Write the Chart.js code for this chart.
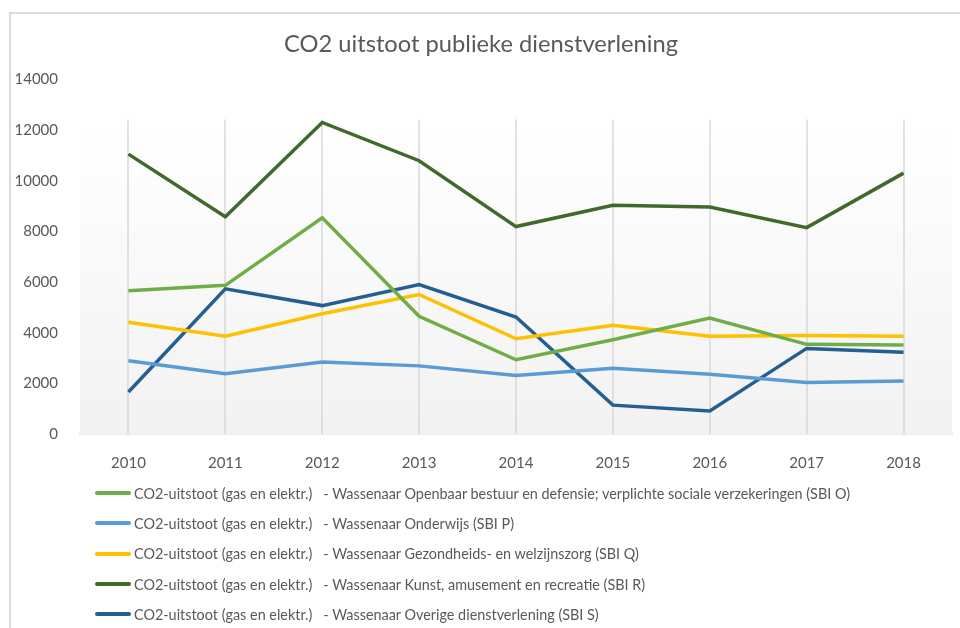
<!DOCTYPE html>
<html>
<head>
<meta charset="utf-8">
<script src="https://cdn.jsdelivr.net/npm/chart.js@4.4.0/dist/chart.umd.min.js"></script>
<style>
  html,body{margin:0;padding:0;background:#fff;overflow:hidden;}
  #wrap{position:relative;width:960px;height:628px;}
  #frame{position:absolute;left:9px;top:12px;width:2000px;height:2000px;border:2px solid #d9d9d9;pointer-events:none;}
  #legend{position:absolute;left:95px;top:478px;font-family:Lato,'Open Sans',sans-serif;font-size:14.4px;color:#595959;}
  #legend .row{height:30.3px;display:flex;align-items:center;white-space:pre;}
  #legend .sw{width:36px;height:4px;margin-right:3px;border-radius:2px;}
</style>
</head>
<body>
<div id="wrap">
  <canvas id="co2Chart" width="960" height="628"></canvas>
  <div id="frame"></div>
  <div id="legend"></div>
</div>
<script>
// ── DATA ─────────────────────────────────────────────────────────────────────
const YEARS = ['2010','2011','2012','2013','2014','2015','2016','2017','2018'];
const Y_TICKS = [0,2000,4000,6000,8000,10000,12000,14000];

const openbaar   = [5660, 5870, 8540, 4650, 2930, 3720, 4580, 3540, 3510];
const onderwijs  = [2890, 2380, 2840, 2690, 2310, 2600, 2360, 2030, 2090];
const gezondheid = [4410, 3860, 4750, 5510, 3760, 4290, 3860, 3890, 3860];
const kunst      = [11050, 8580, 12300, 10790, 8190, 9030, 8960, 8150, 10300];
const overige    = [1660, 5730, 5070, 5900, 4620, 1140, 910, 3380, 3230];

const PREFIX = 'CO2-uitstoot (gas en elektr.)   - Wassenaar ';
const SERIES = [
  {label:PREFIX+'Openbaar bestuur en defensie; verplichte sociale verzekeringen (SBI O)', data:openbaar,   color:'#70AD47'},
  {label:PREFIX+'Onderwijs (SBI P)',                                                   data:onderwijs,  color:'#5B9BD5'},
  {label:PREFIX+'Gezondheids- en welzijnszorg (SBI Q)',                                data:gezondheid, color:'#FFC000'},
  {label:PREFIX+'Kunst, amusement en recreatie (SBI R)',                               data:kunst,      color:'#43682B'},
  {label:PREFIX+'Overige dienstverlening (SBI S)',                                     data:overige,    color:'#255E91'},
];

const MUTED = '#595959';
const GRID  = '#d9d9d9';
const FONT  = "Lato, 'Open Sans', sans-serif";

// ── plot-area fill + vertical gridlines (Excel style) ────────────────────────
const plotBg = {
  id:'plotBg',
  beforeDatasetsDraw(chart){
    const {ctx, chartArea:a, scales:{x}} = chart;
    const top = a.top + 40;
    const g = ctx.createLinearGradient(0, top, 0, a.bottom);
    g.addColorStop(0, '#ffffff');
    g.addColorStop(1, '#f2f2f2');
    ctx.save();
    ctx.fillStyle = g;
    ctx.fillRect(a.left, top, a.right - a.left, a.bottom - top);
    ctx.strokeStyle = GRID;
    ctx.lineWidth = 1.5;
    YEARS.forEach((_,i)=>{
      const px = Math.round(x.getPixelForValue(i));
      ctx.beginPath();
      ctx.moveTo(px, top);
      ctx.lineTo(px, a.bottom);
      ctx.stroke();
    });
    ctx.restore();
  }
};

const chart = new Chart(document.getElementById('co2Chart'),{
  type:'line',
  data:{
    labels:YEARS,
    datasets:SERIES.map(s=>({
      label:s.label, data:s.data, borderColor:s.color, backgroundColor:s.color,
      borderWidth:3.5, tension:0, pointRadius:0, fill:false
    }))
  },
  options:{
    responsive:false, animation:false,
    layout:{padding:{left:10,right:8,top:0,bottom:154}},
    plugins:{
      legend:{display:false},
      tooltip:{enabled:false},
      title:{display:true,text:'CO2 uitstoot publieke dienstverlening',color:MUTED,
        font:{family:FONT,size:23.7,weight:'normal'},padding:{top:30,bottom:21}}
    },
    scales:{
      x:{
        offset:true,
        grid:{display:false},
        border:{display:true,color:GRID,width:1.5},
        ticks:{color:MUTED,font:{family:FONT,size:15},padding:12},
        afterFit:s=>{s.height=40;}
      },
      y:{
        min:0,max:14000,
        grid:{display:false},
        border:{display:false},
        afterBuildTicks:s=>{s.ticks=Y_TICKS.map(v=>({value:v}));},
        ticks:{color:MUTED,font:{family:FONT,size:15},padding:14,callback:v=>String(v)},
        afterFit:s=>{s.width=70;}
      }
    }
  },
  plugins:[plotBg]
});

// ── legend, one entry per line ───────────────────────────────────────────────
document.getElementById('legend').innerHTML = chart.data.datasets.map(d=>
  `<div class="row"><span class="sw" style="background:${d.borderColor}"></span><span>${d.label}</span></div>`
).join('');
</script>
</body>
</html>
